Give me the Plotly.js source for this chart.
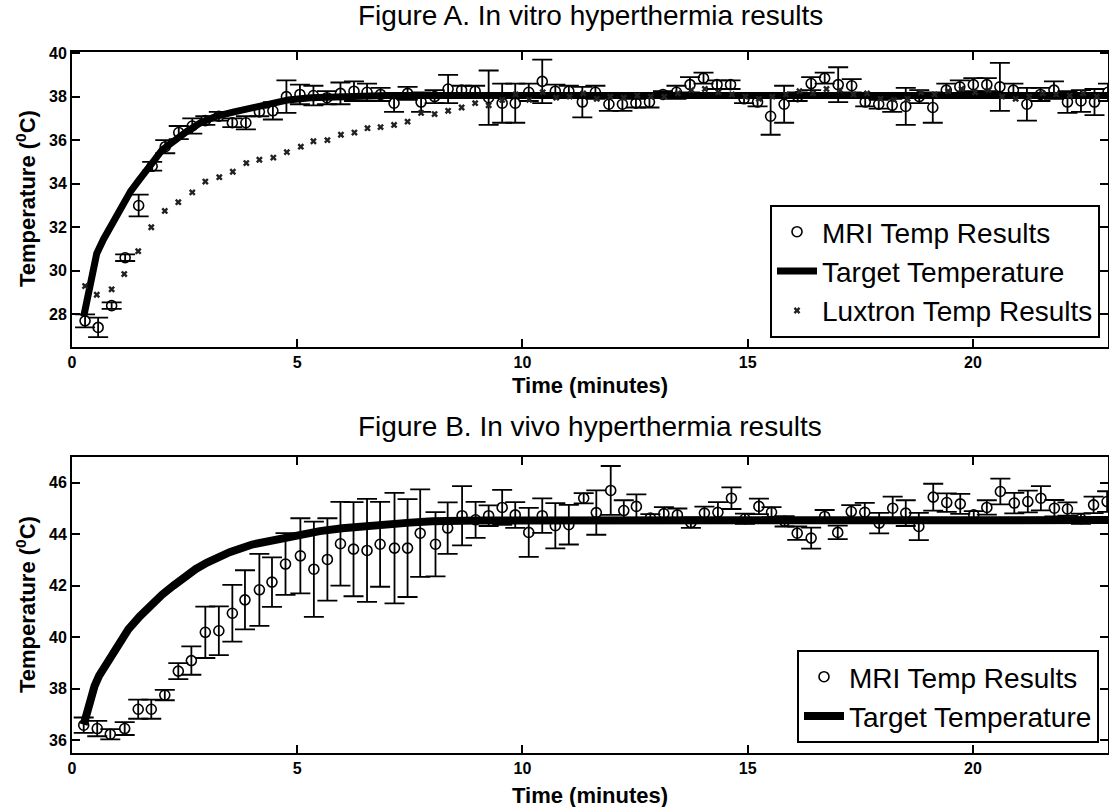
<!DOCTYPE html>
<html>
<head>
<meta charset="utf-8">
<script src="https://cdn.plot.ly/plotly-3.0.1.min.js"></script>
<style>html,body{margin:0;padding:0;background:#fff;}#chart{width:1109px;height:807px;}</style>
</head>
<body>
<div id="chart"></div>
<script>
// ---------- Figure A: in vitro ----------
const mriA_time = [0.29,0.58,0.88,1.18,1.48,1.78,2.07,2.37,2.67,2.96,3.26,3.56,3.86,4.16,4.46,4.76,5.06,5.36,5.66,5.96,6.26,6.55,6.85,7.15,7.45,7.75,8.05,8.35,8.65,8.95,9.25,9.55,9.84,10.14,10.44,10.73,11.03,11.33,11.62,11.92,12.22,12.52,12.82,13.12,13.42,13.72,14.02,14.32,14.62,14.92,15.22,15.51,15.81,16.11,16.41,16.71,17.01,17.31,17.61,17.91,18.21,18.51,18.81,19.11,19.41,19.71,20.01,20.31,20.6,20.9,21.2,21.5,21.8,22.1,22.4,22.7,23.0];
const mriA_temp = [27.7,27.4,28.4,30.6,33.0,34.8,35.7,36.35,36.65,36.9,37.1,36.8,36.8,37.3,37.35,38.0,38.1,38.05,37.95,38.15,38.25,38.2,38.1,37.7,38.15,37.75,38.0,38.35,38.3,38.25,37.95,37.7,37.7,38.2,38.7,38.25,38.25,37.75,38.2,37.65,37.65,37.7,37.75,38.1,38.2,38.55,38.85,38.55,38.55,37.9,37.75,37.1,37.65,38.0,38.6,38.85,38.55,38.5,37.75,37.65,37.6,37.55,38.0,37.5,38.3,38.45,38.55,38.55,38.45,38.3,37.65,38.1,38.3,37.75,37.8,37.75,38.2];
const mriA_err  = [0.3,0.45,0.15,0.15,0.5,0.2,0.3,0.3,0.35,0.2,0.2,0.2,0.3,0.2,0.4,0.75,0.45,0.45,0.3,0.5,0.45,0.4,0.3,0.4,0.3,0.45,0.3,0.65,0.2,0.25,1.25,0.9,0.9,0.4,1.0,0.3,0.25,0.7,0.3,0.3,0.3,0.2,0.25,0.15,0.3,0.35,0.25,0.2,0.2,0.2,0.2,0.85,0.85,0.2,0.3,0.25,0.8,0.3,0.2,0.2,0.3,0.85,0.3,0.7,0.3,0.3,0.3,0.3,1.1,0.3,0.75,0.3,0.4,0.5,0.5,0.6,0.4];

const targetA_time = [0.26,0.4,0.55,0.7,0.85,1.0,1.15,1.3,1.5,1.65,1.8,2.0,2.25,2.55,2.85,3.2,3.6,3.95,4.4,4.8,5.3,6.0,7.0,23.0];
const targetA_temp = [27.9,29.5,30.8,31.45,32.0,32.6,33.2,33.65,34.2,34.65,35.0,35.55,35.95,36.4,36.8,37.1,37.3,37.45,37.65,37.85,37.95,38.0,38.05,38.05];

const luxA_time = [0.29,0.55,0.88,1.16,1.47,1.76,2.06,2.36,2.67,2.96,3.27,3.57,3.87,4.16,4.47,4.77,5.08,5.36,5.67,5.97,6.27,6.56,6.85,7.15,7.45,7.75,8.05,8.35,8.65,8.95,9.25,9.55,9.85,10.15,10.45,10.75,11.05,11.35,11.65,11.95,12.25,12.55,12.85,13.15,13.45,13.75,14.05,14.35,14.65,14.95,15.25,15.55,15.85,16.15,16.45,16.75,17.05,17.35,17.65,17.95,18.25,18.55,18.85,19.15,19.45,19.75,20.05,20.35,20.65,20.95,21.25,21.55,21.85,22.15,22.45,22.75];
const luxA_temp = [29.3,28.9,29.15,29.85,30.9,32.0,32.75,33.15,33.6,34.1,34.3,34.55,34.95,35.1,35.2,35.45,35.7,35.95,36.0,36.25,36.35,36.55,36.6,36.7,36.85,37.25,37.2,37.35,37.5,37.7,37.6,37.85,38.1,37.85,38.2,37.95,38.0,38.15,37.9,38.0,37.95,38.05,38.0,38.0,38.15,38.3,38.35,38.2,38.1,38.0,37.9,38.0,38.1,38.25,38.15,38.35,38.3,38.1,38.15,37.9,37.85,37.9,38.2,38.1,38.25,38.35,38.2,38.3,38.0,37.9,38.0,38.15,38.1,38.05,38.15,38.0];

// ---------- Figure B: in vivo ----------
const mriB_time = [0.26,0.56,0.85,1.17,1.47,1.76,2.06,2.36,2.65,2.96,3.26,3.56,3.84,4.16,4.44,4.74,5.07,5.37,5.67,5.96,6.25,6.55,6.84,7.16,7.45,7.73,8.07,8.34,8.66,8.96,9.25,9.55,9.84,10.14,10.44,10.73,11.03,11.36,11.64,11.96,12.25,12.53,12.84,13.14,13.44,13.74,14.04,14.34,14.64,14.94,15.25,15.53,15.82,16.1,16.41,16.71,17.0,17.3,17.6,17.92,18.22,18.51,18.8,19.12,19.42,19.72,20.02,20.31,20.61,20.92,21.22,21.51,21.81,22.1,22.4,22.68,22.98];
const mriB_temp = [36.58,36.45,36.23,36.45,37.2,37.2,37.75,38.68,39.09,40.19,40.25,40.93,41.45,41.84,42.14,42.84,43.16,42.64,43.02,43.63,43.42,43.37,43.61,43.46,43.46,44.04,43.61,44.24,44.72,44.56,44.72,45.04,44.75,44.07,44.72,44.33,44.37,45.4,44.84,45.7,44.92,45.08,44.63,44.8,44.75,44.45,44.82,44.85,45.4,44.6,45.08,44.85,44.5,44.04,43.85,44.69,44.07,44.88,44.85,44.43,45.01,44.82,44.3,45.44,45.23,45.18,44.75,45.04,45.66,45.21,45.27,45.4,45.01,44.98,44.6,45.14,45.27];
const mriB_err  = [0.3,0.3,0.2,0.25,0.37,0.37,0.2,0.31,0.55,1.0,0.95,1.1,1.15,1.4,0.96,1.2,1.46,1.85,1.6,1.63,1.83,2.0,1.65,2.15,1.9,1.7,1.25,1.0,1.15,0.7,0.4,0.68,0.5,0.95,0.67,0.88,0.77,0.2,0.86,0.95,0.4,0.47,0.15,0.25,0.25,0.2,0.25,0.4,0.42,0.2,0.3,0.2,0.2,0.26,0.41,0.25,0.26,0.25,0.37,0.4,0.45,0.5,0.53,0.52,0.36,0.39,0.15,0.28,0.5,0.4,0.42,0.47,0.32,0.26,0.2,0.32,0.4];

const targetB_time = [0.26,0.37,0.5,0.6,0.8,1.0,1.25,1.5,1.75,2.0,2.25,2.5,2.75,3.0,3.5,4.0,4.5,5.0,5.5,6.0,6.5,7.0,7.5,8.0,9.0,23.0];
const targetB_temp = [36.6,37.4,38.1,38.5,39.1,39.7,40.3,40.8,41.25,41.65,42.0,42.35,42.65,42.9,43.3,43.6,43.8,43.98,44.12,44.23,44.32,44.4,44.45,44.5,44.53,44.55];

const xTicks = [0,5,10,15,20];
const yTicksA = [28,30,32,34,36,38,40];
const yTicksB = [36,38,40,42,44,46];
const seriesNames = ['MRI Temp Results','Target Temperature','Luxtron Temp Results'];
const titles = ['Figure A. In vitro hyperthermia results','Figure B. In vivo hyperthermia results'];
const xLabel = 'Time (minutes)';
const yLabel = 'Temperature (<sup>0</sup>C)';

const FONT = 'Liberation Sans, Arial, sans-serif';
const errStyle = (arr) => ({type:'data', array:arr, visible:true, color:'#000', thickness:1.8, width:10});
const circleMarker = {symbol:'circle-open', size:10, color:'#000', line:{color:'#000', width:1.6}};

const traces = [
  {x:mriA_time, y:mriA_temp, error_y:errStyle(mriA_err), mode:'markers', marker:circleMarker,
   name:seriesNames[0], xaxis:'x', yaxis:'y', legend:'legend'},
  {x:targetA_time, y:targetA_temp, mode:'lines', line:{color:'#000', width:7},
   name:seriesNames[1], xaxis:'x', yaxis:'y', legend:'legend'},
  {x:luxA_time, y:luxA_temp, mode:'markers', marker:{symbol:'x', size:6, color:'#222'},
   name:seriesNames[2], xaxis:'x', yaxis:'y', legend:'legend'},
  {x:mriB_time, y:mriB_temp, error_y:errStyle(mriB_err), mode:'markers', marker:circleMarker,
   name:seriesNames[0], xaxis:'x2', yaxis:'y2', legend:'legend2'},
  {x:targetB_time, y:targetB_temp, mode:'lines', line:{color:'#000', width:8},
   name:seriesNames[1], xaxis:'x2', yaxis:'y2', legend:'legend2'}
];

const W = 1109, H = 807, L = 72, R = 1;
const px2x = (px) => (px - L) / (W - L - R);
const px2y = (py) => 1 - py / H;

const tickFont = {family:FONT, size:16, color:'#000', weight:'bold'};
const axisCommon = {
  showline:true, linecolor:'#000', linewidth:2, mirror:'allticks',
  ticks:'inside', ticklen:8, tickwidth:2, tickcolor:'#000',
  showgrid:false, zeroline:false, tickfont:tickFont, fixedrange:true
};

const legendCommon = {
  xanchor:'right', yanchor:'bottom', bgcolor:'#fff', bordercolor:'#000', borderwidth:2,
  font:{family:FONT, size:28, color:'#000'}, tracegroupgap:0, itemwidth:40
};

const annoFont = (size, bold) => ({family:FONT, size:size, color:'#000', weight: bold ? 'bold' : 'normal'});

const layout = {
  width:W, height:H,
  margin:{l:L, r:R, t:0, b:0},
  paper_bgcolor:'#fff', plot_bgcolor:'#fff',
  showlegend:true,
  xaxis: Object.assign({}, axisCommon, {domain:[0,1], range:[0,23], tickvals:xTicks, anchor:'y'}),
  yaxis: Object.assign({}, axisCommon, {domain:[px2y(347), px2y(52)], range:[26.5,40.05], tickvals:yTicksA, anchor:'x'}),
  xaxis2: Object.assign({}, axisCommon, {domain:[0,1], range:[0,23], tickvals:xTicks, anchor:'y2'}),
  yaxis2: Object.assign({}, axisCommon, {domain:[px2y(753), px2y(457)], range:[35.5,47], tickvals:yTicksB, anchor:'x2'}),
  legend: Object.assign({}, legendCommon, {x:px2x(1100), y:px2y(338)}),
  legend2: Object.assign({}, legendCommon, {x:px2x(1099), y:px2y(743)}),
  annotations:[
    {text:titles[0], xref:'paper', yref:'paper', x:0.5, y:px2y(16), showarrow:false, font:annoFont(28,false), xanchor:'center', yanchor:'middle'},
    {text:titles[1], xref:'paper', yref:'paper', x:0.5, y:px2y(427), showarrow:false, font:annoFont(28,false), xanchor:'center', yanchor:'middle'},
    {text:xLabel, xref:'paper', yref:'paper', x:0.5, y:px2y(385), showarrow:false, font:annoFont(22,true), xanchor:'center', yanchor:'middle'},
    {text:xLabel, xref:'paper', yref:'paper', x:0.5, y:px2y(795), showarrow:false, font:annoFont(22,true), xanchor:'center', yanchor:'middle'},
    {text:yLabel, xref:'paper', yref:'paper', x:px2x(26), y:px2y(199), showarrow:false, textangle:-90, font:annoFont(22,true), xanchor:'center', yanchor:'middle'},
    {text:yLabel, xref:'paper', yref:'paper', x:px2x(26), y:px2y(605), showarrow:false, textangle:-90, font:annoFont(22,true), xanchor:'center', yanchor:'middle'}
  ]
};

Plotly.newPlot('chart', traces, layout, {displayModeBar:false, staticPlot:true});
</script>
</body>
</html>
